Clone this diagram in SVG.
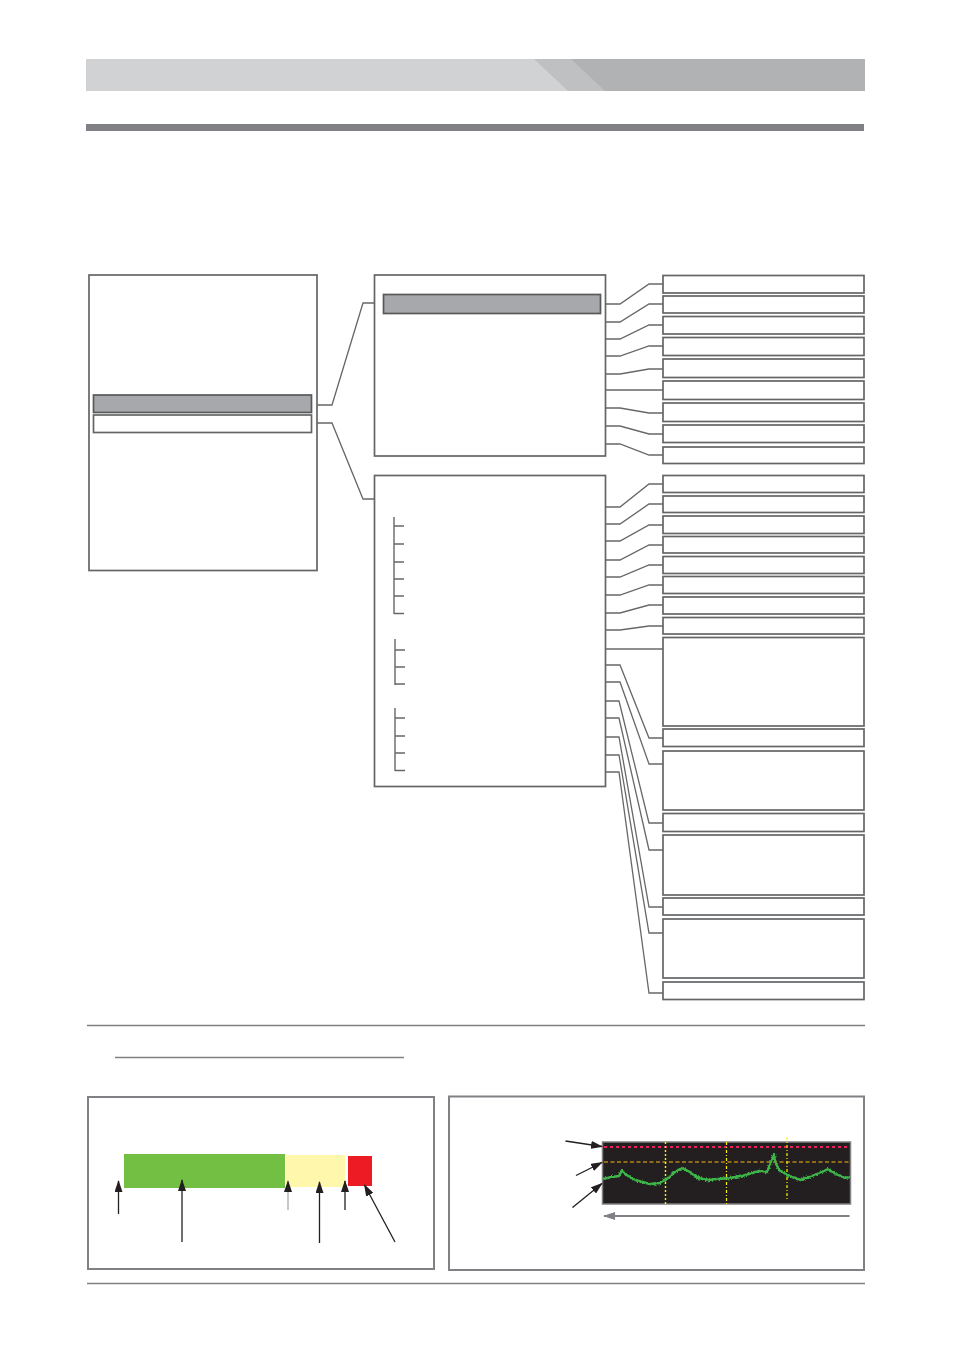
<svg xmlns="http://www.w3.org/2000/svg" width="954" height="1350" viewBox="0 0 954 1350">
<style>
.box{fill:#fff;stroke:#646567;stroke-width:1.7}
.hl{fill:#a7a8ab;stroke:#58595b;stroke-width:1.7}
.con{fill:none;stroke:#666769;stroke-width:1.3}
.tick{fill:none;stroke:#666769;stroke-width:1.4}
.rule{stroke:#808184;stroke-width:1.4}
.frame{fill:#fff;stroke:#808184;stroke-width:2}
.arr{stroke:#231f20;stroke-width:1.3;fill:none}
.trace{fill:none;stroke:#3db54a;stroke-linejoin:round}
</style>
<defs>
<marker id="ah" markerWidth="12" markerHeight="8" refX="11" refY="4" orient="auto" markerUnits="userSpaceOnUse">
<path d="M0,0 L12,4 L0,8 Z" fill="#231f20"/>
</marker>
<marker id="ahg" markerWidth="12" markerHeight="8" refX="11" refY="4" orient="auto" markerUnits="userSpaceOnUse">
<path d="M0,0 L12,4 L0,8 Z" fill="#808184"/>
</marker>
<filter id="noise" filterUnits="userSpaceOnUse" x="595" y="1140" width="262" height="66">
<feTurbulence type="fractalNoise" baseFrequency="0.6" numOctaves="2" seed="3" result="t"/>
<feDisplacementMap in="SourceGraphic" in2="t" scale="4" xChannelSelector="R" yChannelSelector="G"/>
</filter>
<clipPath id="scr"><rect x="602.5" y="1142" width="248" height="62"/></clipPath>
</defs>

<g id="header">
<rect x="86" y="59" width="779" height="32" fill="#d1d2d4"/>
<polygon points="534,59 865,59 865,91 568,91" fill="#bfc0c2"/>
<polygon points="571,59 865,59 865,91 605,91" fill="#b1b2b4"/>
<rect x="86" y="124" width="778" height="7" fill="#808184"/>
</g>

<g id="connectors">
<polyline class="con" points="317,405 332,405 363,303 375,303"/>
<polyline class="con" points="317,423 332,423 363,499 375,499"/>
<polyline class="con" points="606,304 620,304 649,284 663,284"/>
<polyline class="con" points="606,322 620,322 649,304 663,304"/>
<polyline class="con" points="606,339 620,339 649,325 663,325"/>
<polyline class="con" points="606,356 620,356 649,346 663,346"/>
<polyline class="con" points="606,374 620,374 649,369 663,369"/>
<polyline class="con" points="606,390 663,390"/>
<polyline class="con" points="606,408 620,408 649,413 663,413"/>
<polyline class="con" points="606,426 620,426 649,434 663,434"/>
<polyline class="con" points="606,444 620,444 649,455 663,455"/>
<polyline class="con" points="606,507 620,507 649,484 663,484"/>
<polyline class="con" points="606,524 620,524 649,504 663,504"/>
<polyline class="con" points="606,541 620,541 649,525 663,525"/>
<polyline class="con" points="606,560 620,560 649,545 663,545"/>
<polyline class="con" points="606,577 620,577 649,565 663,565"/>
<polyline class="con" points="606,595 620,595 649,585 663,585"/>
<polyline class="con" points="606,613 620,613 649,605 663,605"/>
<polyline class="con" points="606,630 620,630 649,626 663,626"/>
<polyline class="con" points="606,649 663,649"/>
<polyline class="con" points="606,665 620,665 649,738 663,738"/>
<polyline class="con" points="606,682 620,682 649,764 663,764"/>
<polyline class="con" points="606,701 619,701 649,823 663,823"/>
<polyline class="con" points="606,718 619,718 649,850 663,850"/>
<polyline class="con" points="606,737 619,737 649,907 663,907"/>
<polyline class="con" points="606,755 619,755 649,933 663,933"/>
<polyline class="con" points="606,772 619,772 649,993 663,993"/>
</g>

<g id="menu-left">
<rect class="box" x="89" y="275" width="228" height="295.5"/>
<rect class="hl" x="93.5" y="395" width="218" height="17.5"/>
<rect class="box" x="93.5" y="415" width="218" height="17.5"/>
</g>

<g id="menu-top">
<rect class="box" x="374.5" y="275" width="231" height="181"/>
<rect class="hl" x="383.5" y="294.5" width="217" height="19"/>
</g>

<g id="menu-bottom">
<rect class="box" x="374.5" y="475.5" width="231" height="311"/>
<path class="tick" d="M394,517 V614 M394,526 H404 M394,544 H404 M394,562 H404 M394,579 H404 M394,596 H404 M394,613.5 H404"/>
<path class="tick" d="M395,639 V685 M395,650 H405 M395,667 H405 M395,684 H405"/>
<path class="tick" d="M395,708 V771 M395,718 H405 M395,736 H405 M395,753 H405 M395,770.5 H405"/>
</g>

<g id="items-top">
<rect class="box" x="663" y="275.5" width="201" height="17.5"/>
<rect class="box" x="663" y="296" width="201" height="17"/>
<rect class="box" x="663" y="316.5" width="201" height="17.5"/>
<rect class="box" x="663" y="337.5" width="201" height="18"/>
<rect class="box" x="663" y="359" width="201" height="18.5"/>
<rect class="box" x="663" y="381" width="201" height="18.5"/>
<rect class="box" x="663" y="403" width="201" height="18.5"/>
<rect class="box" x="663" y="425" width="201" height="17.5"/>
<rect class="box" x="663" y="447" width="201" height="16.5"/>
</g>

<g id="items-bottom">
<rect class="box" x="663" y="475.5" width="201" height="17"/>
<rect class="box" x="663" y="496" width="201" height="16.5"/>
<rect class="box" x="663" y="516" width="201" height="17.5"/>
<rect class="box" x="663" y="536.5" width="201" height="16.5"/>
<rect class="box" x="663" y="556.5" width="201" height="17"/>
<rect class="box" x="663" y="576.5" width="201" height="17"/>
<rect class="box" x="663" y="597" width="201" height="17"/>
<rect class="box" x="663" y="617.5" width="201" height="16.5"/>
<rect class="box" x="663" y="637.5" width="201" height="88.5"/>
<rect class="box" x="663" y="729" width="201" height="17.5"/>
<rect class="box" x="663" y="751" width="201" height="59"/>
<rect class="box" x="663" y="813.5" width="201" height="18"/>
<rect class="box" x="663" y="835" width="201" height="60"/>
<rect class="box" x="663" y="898" width="201" height="17"/>
<rect class="box" x="663" y="919" width="201" height="59"/>
<rect class="box" x="663" y="982" width="201" height="17.5"/>
</g>

<g id="rules">
<line class="rule" x1="87" y1="1025.5" x2="865" y2="1025.5"/>
<line class="rule" x1="115" y1="1057.5" x2="404" y2="1057.5"/>
<line class="rule" x1="87" y1="1283.5" x2="865" y2="1283.5"/>
</g>

<g id="level-meter">
<rect class="frame" x="88" y="1097" width="346" height="172"/>
<rect x="124" y="1154" width="161" height="34" fill="#72bf44"/>
<rect x="286" y="1155" width="59" height="32" fill="#fff8ac"/>
<rect x="348" y="1156" width="24" height="30" fill="#ed1c24"/>
<line class="arr" x1="118.5" y1="1214" x2="118.5" y2="1181" marker-end="url(#ah)"/>
<line class="arr" x1="182" y1="1242" x2="182" y2="1180" marker-end="url(#ah)"/>
<line class="arr" x1="288" y1="1210" x2="288" y2="1181" marker-end="url(#ah)" style="stroke:#a7a9ac"/>
<line class="arr" x1="319.5" y1="1243" x2="319.5" y2="1182" marker-end="url(#ah)"/>
<line class="arr" x1="345" y1="1210" x2="345" y2="1181" marker-end="url(#ah)"/>
<line class="arr" x1="395" y1="1242" x2="364.5" y2="1185" marker-end="url(#ah)"/>
</g>

<g id="spectrum">
<rect class="frame" x="449" y="1096.5" width="415" height="173.5"/>
<rect x="602.5" y="1142" width="248" height="62" fill="#231f20" stroke="#808184" stroke-width="1.5"/>
<line x1="604" y1="1147" x2="850" y2="1147" stroke="#ed1c5c" stroke-width="1.8" stroke-dasharray="3,3"/>
<line x1="604" y1="1162" x2="850" y2="1162" stroke="#fcb813" stroke-width="1.2" stroke-dasharray="4,2.5"/>
<line x1="665.5" y1="1142" x2="665.5" y2="1204" stroke="#fff200" stroke-width="1.4" stroke-dasharray="2,2"/>
<line x1="726.5" y1="1142" x2="726.5" y2="1204" stroke="#fff200" stroke-width="1.2" stroke-dasharray="3,2,1,2"/>
<line x1="787" y1="1137" x2="787" y2="1201" stroke="#fff200" stroke-width="1.2" stroke-dasharray="3,2,1,2"/>
<g clip-path="url(#scr)">
<polyline class="trace" stroke-width="1.6" points="603,1179 612,1177 619,1176 622,1170 625,1174 635,1180 650,1184 660,1183 668,1178 675,1172 682,1168 690,1172 698,1178 708,1180 718,1179 730,1178 745,1175 760,1171 767,1172 771,1162 774,1155 776,1164 780,1171 788,1175 800,1180 812,1176 822,1172 828,1169 836,1174 845,1178 850,1177"/>
<polyline class="trace" filter="url(#noise)" stroke-width="2.4" points="603,1179 612,1177 619,1176 622,1170 625,1174 635,1180 650,1184 660,1183 668,1178 675,1172 682,1168 690,1172 698,1178 708,1180 718,1179 730,1178 745,1175 760,1171 767,1172 771,1162 774,1155 776,1164 780,1171 788,1175 800,1180 812,1176 822,1172 828,1169 836,1174 845,1178 850,1177"/>
</g>
<line class="arr" x1="565.5" y1="1141" x2="602" y2="1146.5" marker-end="url(#ah)"/>
<line class="arr" x1="576" y1="1175.5" x2="602" y2="1162.5" marker-end="url(#ah)"/>
<line class="arr" x1="572.5" y1="1207.5" x2="602" y2="1183.5" marker-end="url(#ah)"/>
<line x1="849.5" y1="1216" x2="604" y2="1216" stroke="#808184" stroke-width="2" marker-end="url(#ahg)"/>
</g>
</svg>
